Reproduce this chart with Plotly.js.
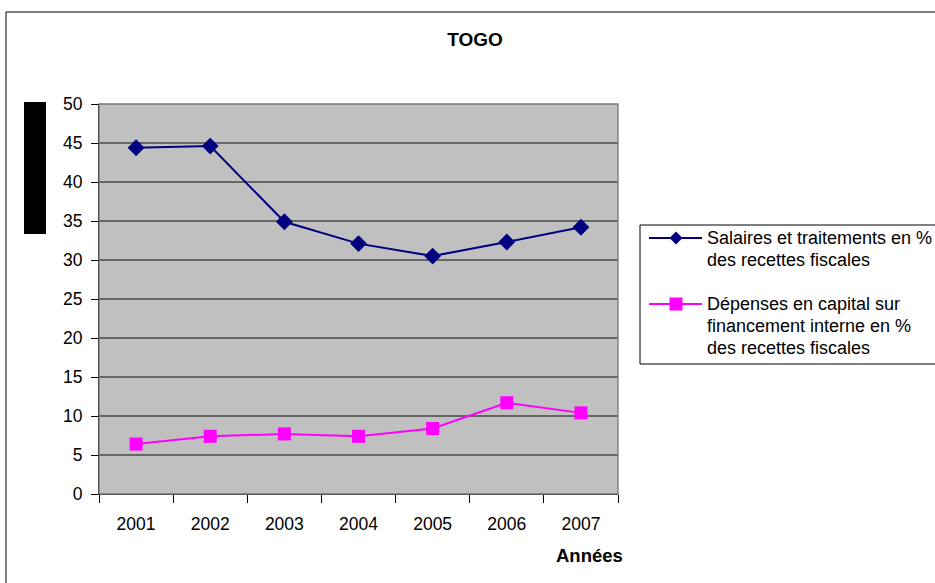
<!DOCTYPE html>
<html>
<head>
<meta charset="utf-8">
<script src="https://cdn.plot.ly/plotly-3.0.1.min.js"></script>
<style>
  html, body { margin: 0; padding: 0; background: #fff; }
  #chart { width: 935px; height: 583px; }
</style>
</head>
<body>
<div id="chart"></div>
<script>
// Années couvertes
const annees = ['2001', '2002', '2003', '2004', '2005', '2006', '2007'];

// Salaires et traitements en % des recettes fiscales
const salaires = [44.4, 44.6, 34.9, 32.1, 30.5, 32.3, 34.2];

// Dépenses en capital sur financement interne en % des recettes fiscales
const depensesCapital = [6.4, 7.4, 7.7, 7.4, 8.4, 11.7, 10.4];

const yTicks = [0, 5, 10, 15, 20, 25, 30, 35, 40, 45, 50];

// Legend labels, one entry per line
const legendSalaires = ['Salaires et traitements en %', 'des recettes fiscales'];
const legendDepenses = ['Dépenses en capital sur', 'financement interne en %', 'des recettes fiscales'];

// Plot area geometry (pixels)
const W = 935, H = 583;
const M = { l: 99, r: 317, t: 104, b: 89 };
const PW = W - M.l - M.r, PH = H - M.t - M.b;
const px = x => (x - M.l) / PW;          // pixel -> paper x
const py = y => (H - M.b - y) / PH;      // pixel -> paper y

const font = 'Arial, "Liberation Sans", sans-serif';
const navy = '#000080', magenta = '#FF00FF';

const traces = [
  {
    x: annees, y: salaires, type: 'scatter', mode: 'lines+markers',
    name: legendSalaires.join(' '),
    line: { color: navy, width: 2 },
    marker: { symbol: 'diamond', size: 13, color: navy }
  },
  {
    x: annees, y: depensesCapital, type: 'scatter', mode: 'lines+markers',
    name: legendDepenses.join(' '),
    line: { color: magenta, width: 2 },
    marker: { symbol: 'square', size: 13, color: magenta }
  }
];

// Hand-built legend block (box, sample lines, symbols, labels)
const legendShapes = [];
const legendNotes = [];
function legendEntry(color, symbol, yPix, lines) {
  legendShapes.push({
    type: 'line', xref: 'paper', yref: 'paper',
    x0: px(649), x1: px(702), y0: py(yPix), y1: py(yPix),
    line: { color: color, width: 2 }
  });
  const cx = 676, r = 6.5;
  if (symbol === 'diamond') {
    legendShapes.push({
      type: 'path', xref: 'paper', yref: 'paper',
      path: `M ${px(cx)} ${py(yPix - r)} L ${px(cx + r)} ${py(yPix)} L ${px(cx)} ${py(yPix + r)} L ${px(cx - r)} ${py(yPix)} Z`,
      fillcolor: color, line: { width: 0 }
    });
  } else {
    legendShapes.push({
      type: 'rect', xref: 'paper', yref: 'paper',
      x0: px(cx - r), x1: px(cx + r), y0: py(yPix + r), y1: py(yPix - r),
      fillcolor: color, line: { width: 0 }
    });
  }
  lines.forEach((t, i) => {
    legendNotes.push({
      text: t, showarrow: false, xref: 'paper', yref: 'paper',
      x: px(705), y: py(yPix + i * 22), xanchor: 'left', yanchor: 'middle',
      font: { family: font, size: 18, color: '#000' }
    });
  });
}
legendShapes.push({
  type: 'rect', xref: 'paper', yref: 'paper',
  x0: px(640), x1: px(960), y0: py(364), y1: py(225),
  fillcolor: '#ffffff', line: { color: '#000', width: 1 }
});
legendEntry(navy, 'diamond', 238, legendSalaires);
legendEntry(magenta, 'square', 304, legendDepenses);

const layout = {
  width: W, height: H,
  margin: M,
  paper_bgcolor: '#ffffff',
  plot_bgcolor: '#C0C0C0',
  font: { family: font, size: 17, color: '#000' },
  title: {
    text: '<b>TOGO</b>',
    font: { family: font, size: 19, color: '#000' },
    xref: 'container', yref: 'container',
    x: 475 / W, xanchor: 'center',
    y: 1 - 39 / H, yanchor: 'middle'
  },
  xaxis: {
    type: 'category',
    range: [-0.5, 6.5],
    tickson: 'boundaries',
    ticks: 'outside', ticklen: 8, tickcolor: '#000', tickwidth: 1,
    ticklabelstandoff: 14,
    showline: true, linecolor: '#000', linewidth: 1,
    showgrid: false, zeroline: false,
    tickfont: { family: font, size: 17.5, color: '#000' },
    fixedrange: true
  },
  yaxis: {
    range: [0, 50],
    tickvals: yTicks,
    ticks: 'outside', ticklen: 7, tickcolor: '#000', tickwidth: 1,
    ticklabelstandoff: 5,
    showline: true, linecolor: '#000', linewidth: 1,
    showgrid: true, gridcolor: '#666666', gridwidth: 1.3,
    zeroline: false,
    tickfont: { family: font, size: 17.5, color: '#000' },
    fixedrange: true
  },
  showlegend: false,
  annotations: [
    {
      text: '<b>Années</b>', showarrow: false,
      xref: 'paper', yref: 'paper',
      x: px(589), y: py(555), xanchor: 'center', yanchor: 'middle',
      font: { family: font, size: 18.5, color: '#000' }
    }
  ].concat(legendNotes),
  shapes: [
    // outer chart frame
    {
      type: 'rect', xref: 'paper', yref: 'paper', layer: 'below',
      x0: px(6), x1: px(960), y0: py(600), y1: py(12),
      line: { color: '#000', width: 1 }, fillcolor: 'rgba(0,0,0,0)'
    },
    // plot area border (top/right)
    {
      type: 'rect', xref: 'paper', yref: 'paper', layer: 'above',
      x0: 0, x1: 1, y0: 0, y1: 1,
      line: { color: '#777777', width: 1.3 }, fillcolor: 'rgba(0,0,0,0)'
    },
    // black block beside the value axis
    {
      type: 'rect', xref: 'paper', yref: 'paper',
      x0: px(24), x1: px(46), y0: py(234), y1: py(102),
      line: { width: 0 }, fillcolor: '#000000'
    }
  ].concat(legendShapes)
};

Plotly.newPlot('chart', traces, layout, { displayModeBar: false, staticPlot: true });
</script>
</body>
</html>
